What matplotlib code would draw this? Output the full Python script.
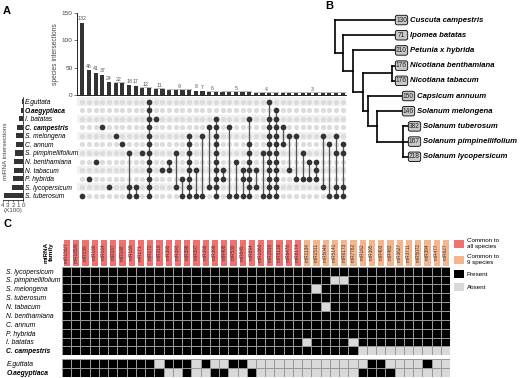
import numpy as np
import matplotlib.pyplot as plt
from matplotlib.colors import ListedColormap
from matplotlib.patches import Patch, FancyBboxPatch

plt.rcParams['font.family'] = ['Liberation Sans', 'DejaVu Sans']

W, H = 520, 378

# ---------------- panel A: upset ----------------
upset_species = ['E.guttata', 'O.aegyptiaca', 'I. batatas', 'C. campestris', 'S. melongena',
                 'C. annum', 'S. pimpinellifolium', 'N. benthamiana', 'N. tabacum',
                 'P. hybrida', 'S. lycopersicum', 'S. tuberosum']
upset_sizes = [22, 45, 71, 130, 146, 150, 167, 176, 176, 210, 218, 382]
bold_species = ['C. campestris', 'O.aegyptiaca']

intersection_counts = [132, 46, 41, 37, 24, 22, 22, 18, 17, 12, 12, 11, 11, 9, 9, 9, 9, 8, 7, 6,
                       6, 5, 5, 5, 5, 5, 4, 4, 4, 4, 3, 3, 3, 3, 3, 3, 3, 3, 3, 3]
intersection_members = [
    [11], [9], [7], [3], [10], [4], [5], [6, 10, 11], [10, 11], [6],
    list(range(12)), [2], [8], [7, 8], [6, 10], [9, 11], list(range(4, 12)), [8, 11], [4, 11], [3, 10],
    list(range(2, 12)), [8, 9], [3, 11], [7, 11], [8, 9, 11], [2, 5, 6, 7, 8, 9, 10, 11], [8, 10], [6, 11],
    [0] + list(range(2, 12)), list(range(1, 12)),
    [3, 5], [4, 8], [4, 9], [6, 9], [7, 9], [7, 8, 9], [4, 10], [5, 11], [4, 6, 10, 11], [5, 6, 10, 11],
]

# ---------------- panel B: tree ----------------
tree_leaves = ['Cuscuta campestris', 'Ipomea batatas', 'Petunia x hybrida', 'Nicotiana benthamiana',
               'Nicotiana tabacum', 'Capsicum annuum', 'Solanum melongena', 'Solanum tuberosum',
               'Solanum pimpinellifolium', 'Solanum lycopersicum']
tree_counts = [130, 71, 210, 176, 176, 150, 146, 382, 167, 218]
leaf_depth = [60, 60, 60, 60, 60, 67, 67, 73, 73, 73]
clade_children = {
    'root': ['Cuscuta campestris', 'n2'],
    'n2': ['Ipomea batatas', 'n3'],
    'n3': ['Petunia x hybrida', 'n4'],
    'n4': ['nic', 'n5'],
    'nic': ['Nicotiana benthamiana', 'Nicotiana tabacum'],
    'n5': ['Capsicum annuum', 'n6'],
    'n6': ['Solanum melongena', 'n7'],
    'n7': ['Solanum tuberosum', 'Solanum pimpinellifolium', 'Solanum lycopersicum'],
}
clade_depth = {'root': 0, 'n2': 8, 'n3': 18, 'n4': 28, 'nic': 57, 'n5': 33, 'n6': 42, 'n7': 68}

# ---------------- panel C: heatmap ----------------
common_all = ['miR156/7', 'miR165/6', 'miR159', 'miR160', 'miR164', 'miR167', 'miR168', 'miR169',
              'miR171', 'miR172', 'miR319', 'miR390', 'miR393', 'miR396', 'miR397', 'miR398',
              'miR399', 'miR408', 'miR530', 'miR845', 'miR894', 'miR1863', 'miR2916', 'miR5139',
              'miR6478', 'miR8174']
common_nine = ['miR1134', 'miR1511', 'miR5049', 'miR5141', 'miR6173', 'miR7782', 'miR162', 'miR395',
               'miR403', 'miR482', 'miR3627', 'miR3711', 'miR5072', 'miR394', 'miR477', 'miR827']
heat_species = ['S. lycopersicum', 'S. pimpinellifolium', 'S. melongena', 'S. tuberosum', 'N. tabacum',
                'N. benthamiana', 'C. annum', 'P. hybrida', 'I. batatas', 'C. campestris']
absent_main = {
    'S. pimpinellifolium': ['miR5141', 'miR6173'],
    'S. melongena': ['miR1511'],
    'N. tabacum': ['miR5049'],
    'I. batatas': ['miR1134', 'miR7782'],
    'C. campestris': ['miR162', 'miR395', 'miR403', 'miR482', 'miR3627', 'miR3711', 'miR5072',
                      'miR394', 'miR477', 'miR827'],
}
outgroup_species = ['E.guttata', 'O.aegyptiaca']
present_outgroup = {
    'E.guttata': ['miR156/7', 'miR165/6', 'miR159', 'miR160', 'miR164', 'miR167', 'miR168', 'miR169',
                  'miR171', 'miR172', 'miR390', 'miR393', 'miR396', 'miR398', 'miR530', 'miR845',
                  'miR395', 'miR403', 'miR394'],
    'O.aegyptiaca': ['miR156/7', 'miR165/6', 'miR159', 'miR160', 'miR164', 'miR167', 'miR168', 'miR169',
                     'miR171', 'miR172', 'miR319', 'miR396', 'miR399', 'miR408', 'miR894', 'miR162',
                     'miR395', 'miR403', 'miR482'],
}
legend_labels = ['Common to\nall species', 'Common to\n9 species', 'Present', 'Absent']


def px_box(left, top, right, bottom):
    return [left / W, 1 - bottom / H, (right - left) / W, (bottom - top) / H]


fig = plt.figure(figsize=(W / 100, H / 100), dpi=100)
dark = '#333333'
grey_txt = '#444444'

# --- A: intersection bars
n_cols = len(intersection_counts)
n_rows = len(upset_species)
xpos = np.arange(n_cols)
ax_bar = fig.add_axes(px_box(77, 12.7, 346, 95))
ax_bar.bar(xpos, intersection_counts, width=0.62, color=dark)
ax_bar.set_xlim(-0.8, n_cols - 0.5)
ax_bar.set_ylim(0, 150)
ax_bar.set_yticks([0, 50, 100, 150])
ax_bar.tick_params(axis='y', labelsize=4.6, length=2, width=0.5, pad=1, colors=grey_txt)
ax_bar.set_xticks([])
for s in ['top', 'right']:
    ax_bar.spines[s].set_visible(False)
for s in ['left', 'bottom']:
    ax_bar.spines[s].set_linewidth(0.6)
ax_bar.set_ylabel('species intersections', fontsize=4.8, color=grey_txt, labelpad=2)
# value labels, grouped when neighbours share a value
i = 0
while i < n_cols:
    j = i
    while j + 1 < n_cols and intersection_counts[j + 1] == intersection_counts[i]:
        j += 1
    v = intersection_counts[i]
    if j > i:
        ax_bar.plot([i - 0.3, i - 0.3, j + 0.3, j + 0.3], [v + 0.5, v + 2, v + 2, v + 0.5],
                    color='#888888', lw=0.4, clip_on=False)
    ax_bar.text((i + j) / 2, v + 2.2, str(v), ha='center', va='bottom', fontsize=3.8,
                color='#555555', clip_on=False)
    i = j + 1

# --- A: matrix
ax_mat = fig.add_axes(px_box(77, 97.4, 346, 200))
ax_mat.set_xlim(-0.8, n_cols - 0.5)
ax_mat.set_ylim(n_rows - 0.5, -0.5)
for r in range(n_rows):
    if r % 2 == 0:
        ax_mat.axhspan(r - 0.5, r + 0.5, color='#f1f1f1', lw=0, zorder=0)
gx, gy = np.meshgrid(xpos, np.arange(n_rows))
ax_mat.scatter(gx.ravel(), gy.ravel(), s=14, color='#dcdcdc', lw=0, zorder=1)
for c, members in enumerate(intersection_members):
    if len(members) > 1:
        ax_mat.plot([c, c], [min(members), max(members)], color='#555555', lw=0.9, zorder=2)
    ax_mat.scatter([c] * len(members), members, s=17, color=dark, lw=0, zorder=3)
ax_mat.set_xticks([])
ax_mat.set_yticks(np.arange(n_rows))
ax_mat.set_yticklabels(upset_species, fontsize=4.8, style='italic', ha='left')
ax_mat.tick_params(axis='y', length=0, pad=37.5)
for lab in ax_mat.get_yticklabels():
    if lab.get_text() in bold_species:
        lab.set_fontweight('bold')
for s in ax_mat.spines.values():
    s.set_visible(False)

# --- A: set sizes
ax_set = fig.add_axes(px_box(3, 97.4, 23, 200))
ax_set.barh(np.arange(n_rows), upset_sizes, height=0.6, color=dark)
ax_set.set_ylim(n_rows - 0.5, -0.5)
ax_set.set_xlim(400, 0)
ax_set.set_xticks([400, 300, 200, 100, 0])
ax_set.set_xticklabels(['4', '3', '2', '1', '0'])
ax_set.tick_params(axis='x', labelsize=4.5, length=1.5, width=0.5, pad=0.5, colors=grey_txt)
ax_set.set_yticks([])
ax_set.set_xlabel('(X100)', fontsize=4.5, labelpad=0.5, color=grey_txt)
for s in ['top', 'left']:
    ax_set.spines[s].set_visible(False)
ax_set.spines['bottom'].set_linewidth(0.5)
ax_set.spines['right'].set_linewidth(0.5)
ax_set.text(0.15, 0.48, 'miRNA intersections', transform=ax_set.transAxes, rotation=90,
            ha='center', va='center', fontsize=4.6, color=grey_txt)

# --- B: tree
ax_tree = fig.add_axes(px_box(330, 5, 520, 170))
ax_tree.set_xlim(-5, 185)
ax_tree.set_ylim(9.87, -0.99)
ax_tree.axis('off')
node_y = {name: k for k, name in enumerate(tree_leaves)}
node_x = {name: d for name, d in zip(tree_leaves, leaf_depth)}
node_x.update(clade_depth)


def place(name):
    if name in node_y:
        return node_y[name]
    ys = [place(ch) for ch in clade_children[name]]
    node_y[name] = (ys[0] + ys[-1]) / 2
    return node_y[name]


place('root')
for parent, children in clade_children.items():
    px = node_x[parent]
    ys = [node_y[ch] for ch in children]
    ax_tree.plot([px, px], [min(ys), max(ys)], color='black', lw=1.2, solid_capstyle='projecting')
    for ch in children:
        ax_tree.plot([px, node_x[ch]], [node_y[ch], node_y[ch]], color='black', lw=1.2,
                     solid_capstyle='projecting')
for name, cnt, d in zip(tree_leaves, tree_counts, leaf_depth):
    y = node_y[name]
    ax_tree.add_patch(FancyBboxPatch((d + 0.5, y - 0.3), 12, 0.6,
                                     boxstyle='round,pad=0.2,rounding_size=2',
                                     mutation_aspect=1 / 15.2,
                                     fc='#c8c8c8', ec='black', lw=0.6, zorder=3))
    ax_tree.text(d + 6.5, y, str(cnt), ha='center', va='center', fontsize=4.8, color='#222222',
                 zorder=4)
    ax_tree.text(d + 15, y, name, ha='left', va='center', fontsize=5.6, fontweight='bold',
                 style='italic', zorder=4)

# --- C: heatmap
families = common_all + common_nine
n_fam = len(families)
main_mat = np.array([[0 if f in absent_main.get(sp, []) else 1 for f in families]
                     for sp in heat_species])
out_mat = np.array([[1 if f in present_outgroup[sp] else 0 for f in families]
                    for sp in outgroup_species])
pa_cmap = ListedColormap(['#d9d9d9', 'black'])

ax_head = fig.add_axes(px_box(62, 238, 450, 266.5))
groups = np.array([[0] * len(common_all) + [1] * len(common_nine)])
ax_head.pcolormesh(groups, cmap=ListedColormap(['#f06f6f', '#f5b58c']), vmin=0, vmax=1,
                   edgecolors='white', linewidth=0.8)
for k, fam in enumerate(families):
    ax_head.text(k + 0.5, 0.5, fam, rotation=90, ha='center', va='center', fontsize=3.4,
                 color='#333333')
ax_head.set_xlim(0, n_fam)
ax_head.axis('off')

ax_main = fig.add_axes(px_box(62, 266.7, 450, 355.2))
ax_main.pcolormesh(main_mat, cmap=pa_cmap, vmin=0, vmax=1, edgecolors='#999999', linewidth=0.5)
ax_out = fig.add_axes(px_box(62, 358.8, 450, 376.5))
ax_out.pcolormesh(out_mat, cmap=pa_cmap, vmin=0, vmax=1, edgecolors='#999999', linewidth=0.5)
for ax, names in [(ax_main, heat_species), (ax_out, outgroup_species)]:
    ax.set_xlim(0, n_fam)
    ax.set_ylim(len(names), 0)
    ax.set_xticks([])
    ax.set_yticks(np.arange(len(names)) + 0.5)
    ax.set_yticklabels(names, fontsize=4.9, style='italic', ha='left')
    ax.tick_params(axis='y', length=0, pad=40)
    for lab in ax.get_yticklabels():
        if lab.get_text() in bold_species:
            lab.set_fontweight('bold')
    for s in ax.spines.values():
        s.set_visible(False)

fig.text(49 / W, 1 - 252 / H, 'miRNA\nfamily', rotation=90, ha='center', va='center',
         fontsize=4.6, fontweight='bold', linespacing=1.0)

handles = [Patch(fc='#f06f6f'), Patch(fc='#f5b58c'), Patch(fc='black'), Patch(fc='#d9d9d9')]
fig.legend(handles, legend_labels, loc='upper left', bbox_to_anchor=(451 / W, 1 - 236 / H),
           frameon=False, fontsize=4.5, handlelength=1.6, handleheight=1.6, labelspacing=0.8,
           handletextpad=0.5, borderaxespad=0)

# panel letters
fig.text(3 / W, 1 - 11 / H, 'A', fontsize=8, fontweight='bold', va='center')
fig.text(325 / W, 1 - 6 / H, 'B', fontsize=8, fontweight='bold', va='center')
fig.text(3 / W, 1 - 224 / H, 'C', fontsize=8, fontweight='bold', va='center')

fig.savefig('out.png', dpi=100)
